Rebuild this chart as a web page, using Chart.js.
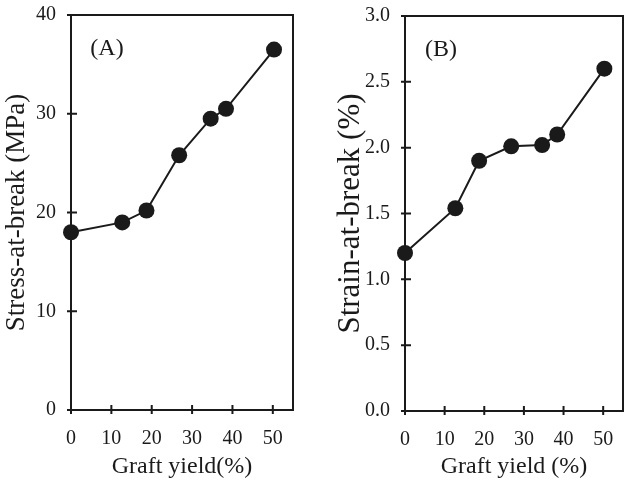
<!DOCTYPE html>
<html>
<head>
<meta charset="utf-8">
<script src="https://cdn.jsdelivr.net/npm/chart.js@4.4.1/dist/chart.umd.min.js"></script>
<style>
  html, body { margin: 0; padding: 0; background: #fff; }
  #wrap { position: relative; width: 625px; height: 485px; }
  #cA { position: absolute; left: 0; top: 0; }
  #cB { position: absolute; left: 310px; top: 0; }
</style>
</head>
<body>
<div id="wrap">
  <canvas id="cA" width="310" height="485"></canvas>
  <canvas id="cB" width="315" height="485"></canvas>
</div>
<script>
// graft yield (%) of the samples
const graftYield = [0, 12.7, 18.7, 26.8, 34.6, 38.4, 50.3];
// stress-at-break (MPa)
const stress = [18.0, 19.0, 20.2, 25.8, 29.5, 30.5, 36.5];
// strain-at-break (%)
const strain = [1.2, 1.54, 1.9, 2.01, 2.02, 2.1, 2.6];

const xTicks = [0, 10, 20, 30, 40, 50];
const stressTicks = [0, 10, 20, 30, 40];
const strainTicks = [0, 0.5, 1.0, 1.5, 2.0, 2.5, 3.0];

const SERIF = "'Liberation Serif', 'Times New Roman', serif";
const INK = '#1a1a1a';

// frame + tick marks that cross the axes, plus the (A)/(B) tag
const framePlugin = {
  id: 'frame',
  afterDatasetsDraw(chart, args, opts) {
    const { ctx, chartArea: a, scales } = chart;
    ctx.save();
    ctx.strokeStyle = INK;
    ctx.lineWidth = 2;
    ctx.strokeRect(a.left, a.top, a.right - a.left, a.bottom - a.top);
    ctx.beginPath();
    scales.x.ticks.forEach(t => {
      const px = scales.x.getPixelForValue(t.value);
      ctx.moveTo(px, a.bottom - 5);
      ctx.lineTo(px, a.bottom + 4);
    });
    scales.y.ticks.forEach(t => {
      const py = scales.y.getPixelForValue(t.value);
      ctx.moveTo(a.left - 4, py);
      ctx.lineTo(a.left + 6, py);
    });
    ctx.stroke();
    ctx.fillStyle = INK;
    ctx.font = '24px ' + SERIF;
    ctx.textAlign = 'center';
    ctx.textBaseline = 'middle';
    ctx.fillText(opts.tag, a.left + 36, a.top + 34);
    ctx.restore();
  }
};

function makePanel(id, yVals, yMax, yTickVals, yTitle, xTitle, tag, pad, yWidth, xHeight, titleFont, titlePad, decimals) {
  const pts = graftYield.map((x, i) => ({ x: x, y: yVals[i] }));
  return new Chart(document.getElementById(id), {
    type: 'scatter',
    plugins: [framePlugin],
    data: {
      datasets: [{
        data: pts,
        showLine: true,
        borderColor: INK,
        borderWidth: 2,
        backgroundColor: INK,
        pointRadius: 8,
        pointHoverRadius: 8,
        pointBorderWidth: 0,
        clip: false
      }]
    },
    options: {
      responsive: false,
      animation: false,
      layout: { padding: pad, autoPadding: false },
      plugins: {
        legend: { display: false },
        tooltip: { enabled: false },
        frame: { tag: tag }
      },
      scales: {
        x: {
          type: 'linear',
          min: 0,
          max: 55,
          afterBuildTicks: s => { s.ticks = xTicks.map(v => ({ value: v })); },
          afterFit: s => { s.height = xHeight; s.paddingLeft = 0; s.paddingRight = 0; },
          grid: { display: false, drawTicks: false },
          border: { display: false },
          ticks: { color: INK, font: { family: SERIF, size: 20 }, padding: 17 },
          title: {
            display: true, text: xTitle, color: INK,
            font: { family: SERIF, size: 24 }, padding: { top: 0, bottom: 4 }
          }
        },
        y: {
          type: 'linear',
          min: 0,
          max: yMax,
          afterBuildTicks: s => { s.ticks = yTickVals.map(v => ({ value: v })); },
          afterFit: s => { s.width = yWidth; s.paddingTop = 0; s.paddingBottom = 0; },
          grid: { display: false, drawTicks: false },
          border: { display: false },
          ticks: {
            color: INK, font: { family: SERIF, size: 20 }, padding: 15,
            callback: v => v.toFixed(decimals)
          },
          title: {
            display: true, text: yTitle, color: INK,
            font: { family: SERIF, size: titleFont }, padding: { top: titlePad, bottom: 0 }
          }
        }
      }
    }
  });
}

makePanel('cA', stress, 40, stressTicks, 'Stress-at-break (MPa)', 'Graft yield(%)', '(A)',
  { top: 15, right: 17, bottom: 0, left: 0 }, 71, 75, 27, 1, 0);
makePanel('cB', strain, 3.0, strainTicks, 'Strain-at-break (%)', 'Graft yield (%)', '(B)',
  { top: 16, right: 2, bottom: 0, left: 0 }, 95, 74, 31, 22, 1);
</script>
</body>
</html>
